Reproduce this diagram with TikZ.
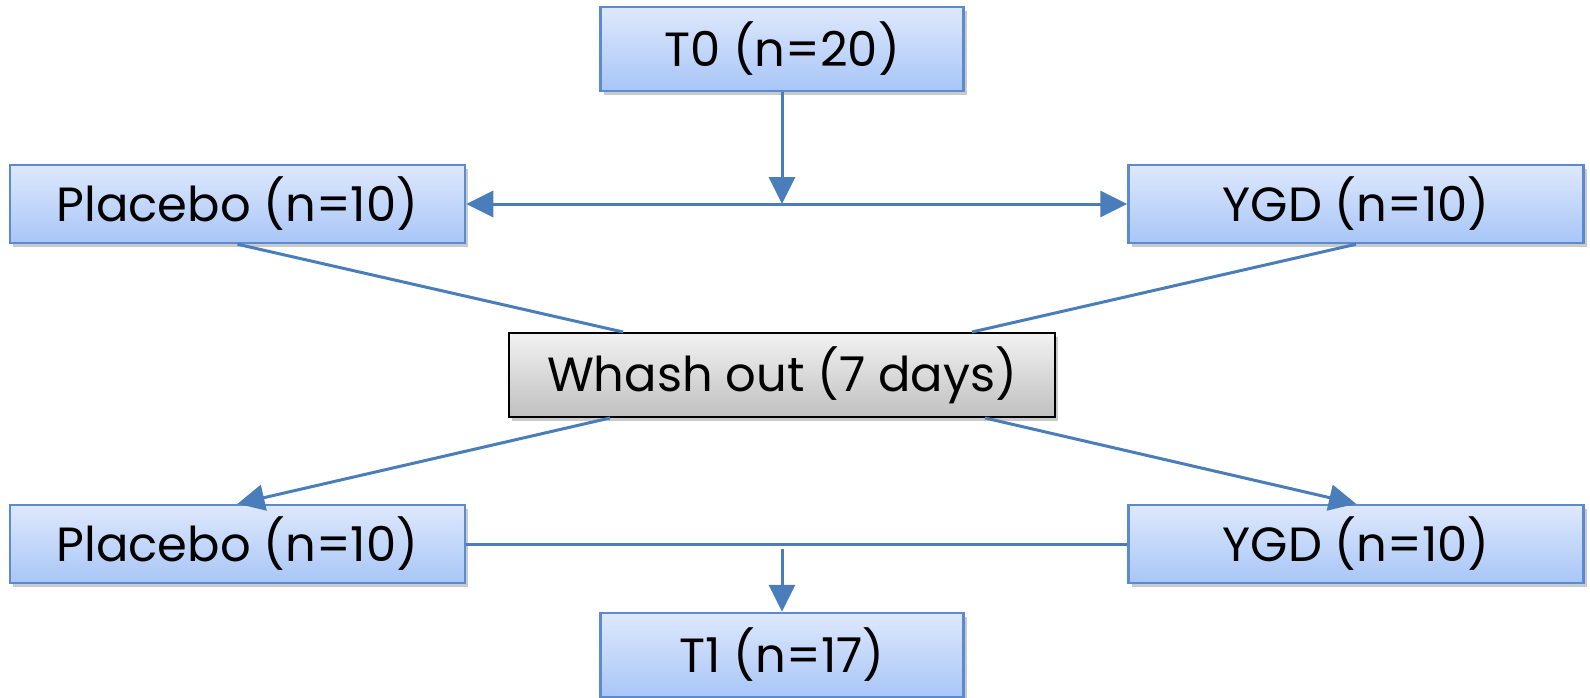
\documentclass[tikz,border=0pt]{standalone}
\usepackage{fontspec}
\setmainfont{Poppins}
\usetikzlibrary{arrows.meta,shadows}
\definecolor{linkblue}{HTML}{4A7EBB}
\definecolor{boxtop}{HTML}{DEE8FC}
\definecolor{boxbot}{HTML}{A8C6F7}
\definecolor{boxedge}{HTML}{5A8AD0}
\definecolor{washtop}{HTML}{F2F2F2}
\definecolor{washbot}{HTML}{C0C0C0}
\begin{document}
\begin{tikzpicture}[x=1pt,y=-1pt,
  boxtext/.style={font=\fontsize{48}{52}\selectfont, text=black, inner sep=0pt},
  bluebox/.style={boxtext, draw=boxedge, line width=2.5pt,
    top color=boxtop, bottom color=boxbot,
    drop shadow={shadow xshift=3pt, shadow yshift=-4pt, opacity=0.35, fill=black!60}},
  stagebox/.style={bluebox, minimum width=363pt, minimum height=84pt},
  armbox/.style={bluebox, minimum width=455pt, minimum height=78pt},
  washbox/.style={boxtext, draw=black, line width=2pt,
    top color=washtop, bottom color=washbot,
    minimum width=546pt, minimum height=84pt,
    drop shadow={shadow xshift=3pt, shadow yshift=-4pt, opacity=0.35, fill=black!60}},
  link/.style={draw=linkblue, line width=3pt},
  flow/.style={link, -{Triangle[length=27pt, width=26pt]}},
  biflow/.style={link, {Triangle[length=27pt, width=26pt]}-{Triangle[length=27pt, width=26pt]}}]
\useasboundingbox (0,0) rectangle (1590,698);

% stages and arms
\node[stagebox] (t0)   at (782,49)   {T0 (n=20)};
\node[armbox]   (pla1) at (237.5,204) {Placebo (n=10)};
\node[armbox]   (ygd1) at (1356,204)  {YGD (n=10)};
\node[washbox]  (wash) at (782,375)   {Whash out (7 days)};
\node[armbox]   (pla2) at (237.5,544) {Placebo (n=10)};
\node[armbox]   (ygd2) at (1356,544)  {YGD (n=10)};
\node[stagebox] (t1)   at (782,655)   {T1 (n=17)};

\coordinate (split) at (782,204);
\coordinate (merge) at (782,549);

% randomisation
\draw[flow] (t0.south) -- (split);
\draw[biflow] (pla1.east) -- (ygd1.west);

% first period into wash-out
\draw[link] (pla1.south) -- ([xshift=-159pt]wash.north);
\draw[link] (ygd1.south) -- ([xshift=190pt]wash.north);

% crossover into second period
\draw[flow] ([xshift=-172pt]wash.south) -- (pla2.north);
\draw[flow] ([xshift=203pt]wash.south) -- (ygd2.north);

% second period to final assessment
\draw[link] (pla2.east) -- (ygd2.west);
\draw[flow] (merge) -- (t1.north);
\end{tikzpicture}
\end{document}
